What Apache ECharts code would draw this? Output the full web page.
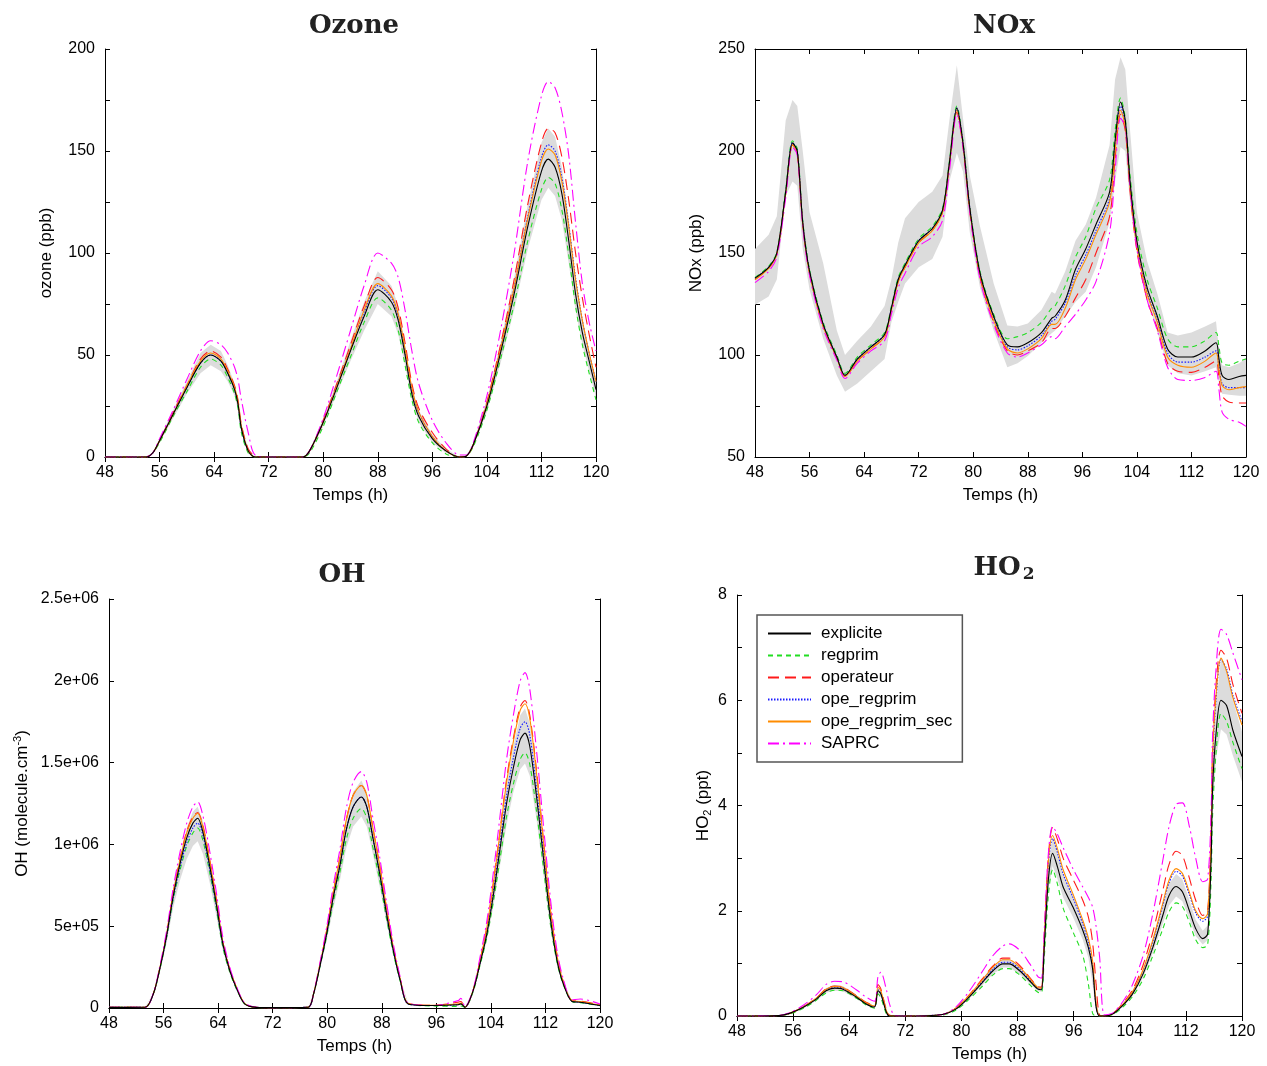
<!DOCTYPE html>
<html>
<head>
<meta charset="utf-8">
<script src="https://cdn.jsdelivr.net/npm/echarts@6/dist/echarts.min.js"></script>
<style>html,body{margin:0;padding:0;background:#fff}#c{width:1267px;height:1066px}</style>
</head>
<body>
<div id="c"></div>
<script>
// ---------- names ----------
const SERIES_NAMES = ['explicite', 'regprim', 'operateur', 'ope_regprim', 'ope_regprim_sec', 'SAPRC'];
const X_TICKS = [48, 56, 64, 72, 80, 88, 96, 104, 112, 120];

// ---------- Ozone (ppb) ----------
const O3_T = [48,54,55,56,58,60,62,63.5,65,66,67,67.5,68,69,70,72,77,78,80,82,84,86,88,90,91,92,93,94,96,98,100,101,102,104,106,108,110,112,113,114,115,116,117,118,119,120];
const O3_explicite = [0,0,2,8,21,34,46,50,47,41,33,26,14,3,0,0,0,3,17,34,52,69,82,76,67,50,31,20,9,3,0,0.5,6,25,51,80,113,140,146,142,129,106,80,61,47,33];
const O3_regprim = [0,0,2,7,20,32,44,48,45,39,31,24,12,2,0,0,0,2,15,32,49,66,78,72,62,45,28,17,7,1.5,0,0.5,5,23,48,75,106,131,137,134,121,99,74,55,41,28];
const O3_operateur = [0,0,2,8,22,35,48,52,49,43,35,28,16,4,0.5,0,0,3,18,36,55,74,88,82,73,56,36,24,12,4,0,0.5,6,27,55,87,124,154,161,159,147,126,100,78,60,44];
const O3_ope_regprim = [0,0,2,8,21,34,46,50,47,41,33,26,14,3,0,0,0,3,17,35,53,71,84,78,69,52,33,22,10,3,0,0.5,6,26,53,83,118,147,153,150,137,114,88,67,51,37];
const O3_ope_regprim_sec = [0,0,2,8,21,35,47,51,48,42,34,27,15,3,0,0,0,3,17,35,53,72,85,79,70,53,34,22,10,3,0,0.5,6,26,53,83,117,145,151,148,135,113,87,67,51,37];
const O3_SAPRC = [0,0,2,9,23,38,52,57,55,51,44,38,28,12,1,0,0,3,19,40,62,84,100,95,88,72,52,36,18,7,1,1,7,30,62,100,145,177,184,181,169,148,115,85,66,52];
const O3_band_low = [0,0,2,7,19,31,41,45,42,37,30,23,12,2,0,0,0,2,15,31,47,62,75,69,60,45,28,17,7,2,0,0.5,5,22,46,72,102,126,132,128,116,95,72,55,42,29];
const O3_band_high = [0,0,2,9,23,37,51,55,52,45,36,29,16,4,0,0,0,3,19,37,57,76,91,84,74,55,34,23,11,4,0,0.5,7,28,56,88,124,154,161,157,142,117,88,67,52,37];
const O3_Y_LABELS = [0, 50, 100, 150, 200];

// ---------- NOx (ppb) ----------
const NOX_T = [48,50,51.2,52.5,53.5,54.2,55,56,58,60,61.2,63,65,67,68,69,70,72,74,75.5,76.5,77.6,78.5,79.5,81,83,85,86.5,88,90,91.5,92,93.5,95,96.5,98,100,100.8,101.6,102.3,103,104,105.5,107,108.5,110,112,114,115.6,116,116.5,117.5,119,120];
const NOX_explicite = [137.7,143,150,180,204,200,165,141,115,99,90,98,104,110,123,137,144,156,162,171,194,221,204,172,140,119,105,104,106,111,118,119,127,142,152,164,180,205,224,215,185,156,133,119,103,99,99,102,106,99,90,88,89.5,90];
const NOX_regprim = [138,143.5,150.5,181,205,201,166,142,116,100,91,99,105,111,124,138,145,157,163,172,195,222,205,173,141,120,108,109,111,116,123,124,134,148,158,172,186,210,226,216,188,160,137,123,108,104,104,107,111,105,96,95,97,98];
const NOX_operateur = [137,142.5,149.5,179,203,199,164,140,114,98.5,89.5,97,103,109,122,136,143,155,161,170,193,219,202,170,138,116,102,100,102,106,113,113,119,128,137,150,168,196,218,210,180,151,127,113,96,92,91.5,94,97,90,80,77,76.5,76.5];
const NOX_ope_regprim = [137.5,143,150,180,204,200,165,141,115,99,90,98,104,110,123,137,144,156,162,171,194,221,204,172,140,118,104,102.5,104.5,109.5,116.5,117.5,125.5,139,149,161,177,203,222,213,183,154,131,117,101,96.5,96.5,99,102,95,86,84,84,84];
const NOX_ope_regprim_sec = [137,142.5,149.5,179,203,199,164,140,114,98.5,89.5,97,103,109,122,136,143,155,161,170,193,220,203,171,139,117,103,101,103,108,115,115,123,137,147,159,175,200,220,212,182,153,130,116,99,95,94,97,101,94,85,83,84,84.5];
const NOX_SAPRC = [135.5,141,148,177,202,198,163,139,113,97.5,88.5,96,102,107,120,133,140,153,158,166,190,218,202,170,137,115,101,99,101,105,109,108,114,120,127,136,160,190,216,212,182,152,127,112,94,88,87.5,89,92,84,72,68.5,67,65];
const NOX_band_low = [124.6,128.7,137,178,185,183,152,132,108,90,82,86,92,98,116,126,135,143,147,158,185,199,190,160,133,112,94,96,99.5,106,110.7,112,119,126,131,143,165,185,202,200,175,150,128,111,95,91,90,92,94,87,81,80.5,80,80];
const NOX_band_high = [152,159,168,215,225,222,200,170,145,112,100,107,114,124,137,155,167,175,180,188,215,242,216,188,163,135,114.5,114,115.5,122,131,130,141,156,164,177,203,235,246,240,210,170,146,130,111,109.5,111,114,116.5,104,95,94,96,98.5];
const NOX_Y_LABELS = [50, 100, 150, 200, 250];

// ---------- OH (molecule.cm-3) ----------
const OH_T = [48,53.3,54.5,55.4,56.4,57.4,58.4,59.4,60.3,61,61.8,62.8,63.8,64.7,65.7,66.7,67.9,69.6,72,77.2,78,78.9,79.9,80.9,81.9,82.8,83.8,85,85.8,86.7,87.7,88.7,89.7,90.7,91.9,95.6,99.2,99.6,100.2,101.4,102.4,103.4,104.4,105.3,106.3,107.3,108.3,109,109.7,110.7,111.7,112.7,113.7,114.6,115.9,117.1,120];
const OH_explicite = [0.04e5,0.05e5,0.86e5,2.3e5,4.3e5,6.8e5,8.8e5,10.4e5,11.3e5,11.6e5,10.7e5,8.6e5,6.2e5,3.9e5,2.3e5,1.2e5,0.25e5,0.04e5,0.02e5,0.05e5,0.86e5,2.5e5,4.5e5,6.8e5,8.8e5,10.9e5,12.3e5,12.9e5,12.3e5,10.4e5,8.2e5,5.75e5,3.5e5,1.7e5,0.25e5,0.15e5,0.2e5,0.25e5,0.05e5,1.06e5,2.7e5,4.5e5,7.0e5,9.6e5,12.5e5,14.7e5,16.4e5,16.8e5,16.0e5,12.9e5,9.2e5,5.55e5,2.9e5,1.5e5,0.4e5,0.35e5,0.15e5];
const OH_regprim = [0.04e5,0.05e5,0.85e5,2.25e5,4.2e5,6.6e5,8.4e5,9.9e5,10.7e5,11.0e5,10.2e5,8.2e5,5.9e5,3.7e5,2.2e5,1.15e5,0.25e5,0.04e5,0.02e5,0.05e5,0.85e5,2.45e5,4.35e5,6.5e5,8.4e5,10.3e5,11.6e5,12.2e5,11.6e5,9.8e5,7.8e5,5.45e5,3.35e5,1.65e5,0.25e5,0.12e5,0.1e5,0.12e5,0.04e5,1.0e5,2.6e5,4.3e5,6.6e5,9.0e5,11.7e5,13.7e5,15.2e5,15.6e5,14.9e5,12.0e5,8.6e5,5.2e5,2.8e5,1.45e5,0.4e5,0.33e5,0.14e5];
const OH_operateur = [0.04e5,0.05e5,0.87e5,2.35e5,4.4e5,7.0e5,9.1e5,10.8e5,11.7e5,11.95e5,11.1e5,9.0e5,6.5e5,4.05e5,2.4e5,1.25e5,0.28e5,0.04e5,0.02e5,0.05e5,0.88e5,2.6e5,4.7e5,7.1e5,9.3e5,11.5e5,13.0e5,13.6e5,13.0e5,11.0e5,8.7e5,6.1e5,3.7e5,1.8e5,0.27e5,0.16e5,0.35e5,0.4e5,0.05e5,1.1e5,2.9e5,4.95e5,7.8e5,10.7e5,14.0e5,16.5e5,18.4e5,18.8e5,17.9e5,14.5e5,10.3e5,6.2e5,3.25e5,1.65e5,0.45e5,0.42e5,0.2e5];
const OH_ope_regprim = [0.04e5,0.05e5,0.86e5,2.3e5,4.25e5,6.7e5,8.6e5,10.1e5,11.0e5,11.3e5,10.5e5,8.4e5,6.1e5,3.85e5,2.3e5,1.2e5,0.25e5,0.04e5,0.02e5,0.05e5,0.86e5,2.5e5,4.5e5,6.8e5,8.8e5,10.9e5,12.3e5,12.9e5,12.3e5,10.4e5,8.2e5,5.75e5,3.5e5,1.7e5,0.25e5,0.15e5,0.2e5,0.25e5,0.05e5,1.07e5,2.75e5,4.65e5,7.3e5,10.0e5,13.0e5,15.3e5,17.1e5,17.5e5,16.7e5,13.4e5,9.6e5,5.8e5,3.0e5,1.55e5,0.42e5,0.36e5,0.15e5];
const OH_ope_regprim_sec = [0.04e5,0.05e5,0.87e5,2.35e5,4.4e5,7.0e5,9.0e5,10.7e5,11.6e5,11.9e5,11.0e5,8.9e5,6.4e5,4.0e5,2.35e5,1.25e5,0.27e5,0.04e5,0.02e5,0.05e5,0.88e5,2.6e5,4.7e5,7.1e5,9.3e5,11.5e5,13.0e5,13.6e5,13.0e5,11.0e5,8.7e5,6.1e5,3.7e5,1.8e5,0.27e5,0.16e5,0.25e5,0.3e5,0.05e5,1.1e5,2.85e5,4.9e5,7.7e5,10.6e5,13.8e5,16.3e5,18.2e5,18.6e5,17.7e5,14.3e5,10.2e5,6.1e5,3.2e5,1.6e5,0.45e5,0.4e5,0.18e5];
const OH_SAPRC = [0.04e5,0.05e5,0.9e5,2.45e5,4.6e5,7.3e5,9.5e5,11.3e5,12.3e5,12.6e5,11.7e5,9.5e5,6.9e5,4.3e5,2.5e5,1.3e5,0.3e5,0.05e5,0.02e5,0.05e5,0.9e5,2.7e5,4.9e5,7.5e5,9.8e5,12.2e5,13.8e5,14.45e5,13.8e5,11.6e5,9.2e5,6.45e5,3.9e5,1.9e5,0.3e5,0.15e5,0.45e5,0.6e5,0.08e5,1.15e5,3.1e5,5.3e5,8.4e5,11.6e5,15.2e5,17.9e5,20.0e5,20.5e5,19.5e5,15.7e5,11.2e5,6.8e5,3.5e5,1.8e5,0.5e5,0.55e5,0.25e5];
const OH_band_low = [0.03e5,0.04e5,0.8e5,2.1e5,3.9e5,6.1e5,7.8e5,9.1e5,9.9e5,10.2e5,9.4e5,7.6e5,5.5e5,3.5e5,2.1e5,1.1e5,0.22e5,0.03e5,0.02e5,0.04e5,0.8e5,2.3e5,4.1e5,6.1e5,7.9e5,9.8e5,11.1e5,11.7e5,11.1e5,9.4e5,7.4e5,5.2e5,3.2e5,1.55e5,0.22e5,0.12e5,0.15e5,0.2e5,0.04e5,1.0e5,2.5e5,4.1e5,6.3e5,8.6e5,11.2e5,13.2e5,14.6e5,14.95e5,14.2e5,11.5e5,8.2e5,4.9e5,2.6e5,1.35e5,0.36e5,0.3e5,0.13e5];
const OH_band_high = [0.05e5,0.06e5,0.9e5,2.45e5,4.55e5,7.2e5,9.3e5,11.0e5,12.0e5,12.3e5,11.4e5,9.1e5,6.6e5,4.15e5,2.45e5,1.28e5,0.28e5,0.05e5,0.03e5,0.06e5,0.9e5,2.65e5,4.8e5,7.3e5,9.4e5,11.7e5,13.2e5,13.9e5,13.2e5,11.1e5,8.8e5,6.15e5,3.75e5,1.8e5,0.28e5,0.17e5,0.25e5,0.3e5,0.06e5,1.1e5,2.9e5,4.9e5,7.6e5,10.5e5,13.6e5,16.0e5,17.9e5,18.3e5,17.4e5,14.1e5,10.0e5,6.0e5,3.15e5,1.6e5,0.44e5,0.4e5,0.17e5];
const OH_Y_TICKS = [0, 5e5, 10e5, 15e5, 20e5, 25e5];
const OH_Y_LABELS = ['0', '5e+05', '1e+06', '1.5e+06', '2e+06', '2.5e+06'];

// ---------- HO2 (ppt) ----------
const HO2_T = [48,54,55.5,57.4,59.3,60.7,61.9,63.1,65,66.4,67.6,68.1,68.5,69.3,69.7,70.5,72,77.3,79.2,81.1,83,84.5,85.9,86.8,88.3,89.7,90.9,91.4,91.8,92.4,93,93.7,94.5,95.9,97.3,98.1,98.7,99.2,99.7,100.4,101.6,103,104.4,105.9,107.3,108.7,109.6,110.6,111.5,112.5,113.4,114.4,115.1,115.6,115.8,116.3,117,117.8,118.7,120];
const HO2_explicite = [0,0.01,0.05,0.16,0.32,0.48,0.53,0.51,0.36,0.23,0.17,0.48,0.42,0.07,0,0,0,0.03,0.13,0.36,0.64,0.86,0.99,0.99,0.86,0.67,0.51,0.5,1.3,2.6,3.09,2.83,2.45,2.07,1.63,1.3,0.9,0.17,0,0,0.04,0.2,0.42,0.8,1.31,1.91,2.29,2.46,2.36,2.0,1.66,1.47,1.56,3.0,4.3,5.37,6.0,5.9,5.43,4.93];
const HO2_regprim = [0,0.01,0.04,0.14,0.3,0.44,0.49,0.48,0.34,0.21,0.15,0.42,0.35,0.04,0,0,0,0.02,0.11,0.32,0.57,0.78,0.9,0.9,0.78,0.6,0.45,0.44,1.1,2.3,2.78,2.5,2.05,1.6,1.15,0.6,0.05,0,0,0,0.03,0.17,0.37,0.7,1.15,1.65,1.98,2.15,2.08,1.78,1.45,1.3,1.35,2.6,3.8,5.0,5.75,5.6,5.2,4.7];
const HO2_operateur = [0,0.01,0.05,0.17,0.34,0.52,0.57,0.55,0.39,0.26,0.2,0.6,0.52,0.12,0.02,0,0,0.03,0.15,0.4,0.71,0.95,1.1,1.1,0.96,0.74,0.56,0.55,1.5,3.05,3.58,3.35,3.0,2.6,2.2,1.88,1.4,0.6,0.02,0,0.05,0.24,0.5,0.97,1.6,2.38,2.88,3.13,3.05,2.62,2.2,1.91,2.0,3.6,5.0,6.3,6.95,6.8,6.3,5.75];
const HO2_ope_regprim = [0,0.01,0.05,0.17,0.33,0.5,0.55,0.53,0.38,0.24,0.18,0.5,0.44,0.08,0,0,0,0.03,0.14,0.37,0.66,0.89,1.02,1.02,0.89,0.69,0.52,0.51,1.4,2.9,3.37,3.1,2.7,2.25,1.75,1.4,0.95,0.2,0,0,0.04,0.21,0.45,0.86,1.42,2.1,2.53,2.75,2.66,2.3,1.96,1.8,1.9,3.4,4.8,6.0,6.77,6.6,6.1,5.6];
const HO2_ope_regprim_sec = [0,0.01,0.05,0.17,0.34,0.51,0.56,0.54,0.38,0.25,0.19,0.55,0.48,0.1,0.01,0,0,0.03,0.15,0.39,0.69,0.93,1.07,1.07,0.93,0.72,0.54,0.53,1.45,2.95,3.43,3.17,2.78,2.32,1.82,1.48,1.05,0.25,0,0,0.04,0.22,0.46,0.88,1.45,2.14,2.58,2.8,2.71,2.35,2.0,1.85,1.95,3.5,4.9,6.1,6.8,6.55,6.05,5.53];
const HO2_SAPRC = [0,0.01,0.06,0.2,0.4,0.6,0.66,0.65,0.5,0.36,0.28,0.75,0.83,0.5,0.25,0.01,0,0.03,0.17,0.47,0.85,1.15,1.33,1.37,1.25,1.0,0.75,0.72,1.6,3.1,3.6,3.45,3.2,2.8,2.45,2.25,2.07,1.7,1.12,0.02,0.06,0.27,0.6,1.15,1.95,2.95,3.6,4.02,4.05,3.6,3.0,2.55,2.6,3.9,5.3,6.6,7.35,7.25,6.9,6.39];
const HO2_band_low = [0,0,0.04,0.14,0.29,0.44,0.48,0.47,0.33,0.21,0.15,0.43,0.37,0.05,0,0,0,0.02,0.12,0.33,0.59,0.8,0.92,0.92,0.8,0.62,0.47,0.46,1.2,2.4,2.85,2.6,2.25,1.88,1.45,1.1,0.6,0.08,0,0,0.03,0.18,0.38,0.73,1.2,1.75,2.1,2.27,2.18,1.84,1.52,1.36,1.44,2.7,3.9,4.9,5.45,5.35,4.95,4.45];
const HO2_band_high = [0,0.01,0.06,0.18,0.35,0.53,0.59,0.57,0.4,0.26,0.19,0.55,0.48,0.09,0.01,0,0,0.04,0.15,0.4,0.71,0.95,1.09,1.09,0.95,0.74,0.56,0.55,1.45,2.9,3.4,3.1,2.7,2.3,1.8,1.45,1.0,0.25,0,0,0.05,0.22,0.46,0.88,1.44,2.1,2.52,2.7,2.6,2.2,1.83,1.62,1.72,3.3,4.7,5.9,6.8,6.55,6.0,5.4];
const HO2_Y_LABELS = [0, 2, 4, 6, 8];

// ---------- styling ----------
const STYLES = {
  'explicite':       { color: '#000000', type: 'solid' },
  'regprim':         { color: '#22dd22', type: [5, 4] },
  'operateur':       { color: '#ff1a1a', type: [11, 6] },
  'ope_regprim':     { color: '#1a1aff', type: [1.5, 1.5] },
  'ope_regprim_sec': { color: '#ff8c00', type: 'solid' },
  'SAPRC':           { color: '#ff00ff', type: [11, 4, 2, 4] }
};
const FONT = 'Liberation Sans';

const panels = [
  { t: O3_T, data: [O3_explicite, O3_regprim, O3_operateur, O3_ope_regprim, O3_ope_regprim_sec, O3_SAPRC], lo: O3_band_low, hi: O3_band_high,
    grid: { left: 105, top: 49, width: 491, height: 408 }, ymin: 0, ymax: 200, yint: 25,
    yfmt: v => (O3_Y_LABELS.indexOf(v) >= 0 ? String(v) : ''), yname: 'ozone (ppb)', ygap: 50 },
  { t: NOX_T, data: [NOX_explicite, NOX_regprim, NOX_operateur, NOX_ope_regprim, NOX_ope_regprim_sec, NOX_SAPRC], lo: NOX_band_low, hi: NOX_band_high,
    grid: { left: 755, top: 49, width: 491, height: 408 }, ymin: 50, ymax: 250, yint: 25,
    yfmt: v => (NOX_Y_LABELS.indexOf(v) >= 0 ? String(v) : ''), yname: 'NOx (ppb)', ygap: 50 },
  { t: OH_T, data: [OH_explicite, OH_regprim, OH_operateur, OH_ope_regprim, OH_ope_regprim_sec, OH_SAPRC], lo: OH_band_low, hi: OH_band_high,
    grid: { left: 109, top: 599, width: 491, height: 409 }, ymin: 0, ymax: 25e5, yint: 5e5,
    yfmt: v => { for (let i = 0; i < OH_Y_TICKS.length; i++) { if (Math.abs(OH_Y_TICKS[i] - v) < 1) return OH_Y_LABELS[i]; } return ''; },
    yname: 'OH (molecule.cm{sup|-3})', ygap: 76 },
  { t: HO2_T, data: [HO2_explicite, HO2_regprim, HO2_operateur, HO2_ope_regprim, HO2_ope_regprim_sec, HO2_SAPRC], lo: HO2_band_low, hi: HO2_band_high,
    grid: { left: 737, top: 595, width: 505, height: 421 }, ymin: 0, ymax: 8, yint: 1,
    yfmt: v => (HO2_Y_LABELS.indexOf(v) >= 0 ? String(v) : ''), yname: 'HO{sub|2} (ppt)', ygap: 24 }
];

const grids = [], xAxes = [], yAxes = [], series = [];
const lineAx = { show: true, lineStyle: { color: '#000', width: 1 } };
const tickIn = { show: true, inside: true, length: 5, lineStyle: { color: '#000', width: 1 } };

panels.forEach((p, g) => {
  grids.push(Object.assign({ containLabel: false }, p.grid));
  xAxes.push({ type: 'value', gridIndex: g, position: 'bottom', min: 48, max: 120, interval: 8,
    axisLine: lineAx, axisTick: tickIn, splitLine: { show: false },
    axisLabel: { color: '#000', fontSize: 16, fontFamily: FONT, margin: 8, formatter: v => (X_TICKS.indexOf(v) >= 0 ? String(v) : '') },
    name: 'Temps (h)', nameLocation: 'middle', nameGap: 30,
    nameTextStyle: { color: '#000', fontSize: 17, fontFamily: FONT } });
  xAxes.push({ type: 'value', gridIndex: g, position: 'top', min: 48, max: 120, interval: 8,
    axisLine: lineAx, axisTick: tickIn, splitLine: { show: false }, axisLabel: { show: false } });
  yAxes.push({ type: 'value', gridIndex: g, position: 'left', min: p.ymin, max: p.ymax, interval: p.yint,
    axisLine: lineAx, axisTick: tickIn, splitLine: { show: false },
    axisLabel: { color: '#000', fontSize: 16, fontFamily: FONT, margin: 10, formatter: p.yfmt },
    name: p.yname, nameLocation: 'middle', nameGap: p.ygap,
    nameTextStyle: { color: '#000', fontSize: 17, fontFamily: FONT,
      rich: { sup: { fontSize: 11, fontFamily: FONT, color: '#000', padding: [0, 0, 10, 0] },
              sub: { fontSize: 11, fontFamily: FONT, color: '#000', padding: [8, 0, 0, 0] } } } });
  yAxes.push({ type: 'value', gridIndex: g, position: 'right', min: p.ymin, max: p.ymax, interval: p.yint,
    axisLine: lineAx, axisTick: tickIn, splitLine: { show: false }, axisLabel: { show: false } });

  // uncertainty band (grey envelope)
  const T = p.t, LO = p.lo, HI = p.hi;
  series.push({
    type: 'custom', name: 'band' + g, xAxisIndex: 2 * g, yAxisIndex: 2 * g, silent: true, z: 1,
    data: T.map((x, i) => [x, LO[i], HI[i]]), encode: { x: 0, y: [1, 2] },
    renderItem: function (params, api) {
      if (params.dataIndex !== 0) return null;
      const pts = [];
      for (let i = 0; i < T.length; i++) pts.push(api.coord([T[i], HI[i]]));
      for (let i = T.length - 1; i >= 0; i--) pts.push(api.coord([T[i], LO[i]]));
      return { type: 'polygon', shape: { points: pts }, style: { fill: '#dcdcdc', stroke: null } };
    }
  });

  SERIES_NAMES.forEach((name, k) => {
    const st = STYLES[name];
    series.push({
      type: 'line', name: name, xAxisIndex: 2 * g, yAxisIndex: 2 * g,
      data: T.map((x, i) => [x, p.data[k][i]]),
      symbol: 'none', showSymbol: false, smooth: 0.3, silent: true, animation: false,
      z: name === 'explicite' ? 3 : 2,
      lineStyle: { color: st.color, width: 1.1, type: st.type },
      itemStyle: { color: st.color }
    });
  });
});

const titleFont = { fontFamily: 'DejaVu Serif', fontWeight: 'bold', fontSize: 26, color: '#222' };
const option = {
  animation: false,
  backgroundColor: '#fff',
  textStyle: { fontFamily: FONT },
  title: [
    { text: 'Ozone', left: 354, top: 13, textAlign: 'center', padding: 0, textStyle: titleFont },
    { text: 'NOx', left: 1004, top: 13, textAlign: 'center', padding: 0, textStyle: titleFont },
    { text: 'OH', left: 342, top: 562, textAlign: 'center', padding: 0, textStyle: titleFont },
    { text: '{a|HO}{b|2}', left: 1004, top: 554, textAlign: 'center', padding: 0,
      textStyle: Object.assign({}, titleFont, { rich: {
        a: { fontFamily: 'DejaVu Serif', fontWeight: 'bold', fontSize: 26, color: '#222' },
        b: { fontFamily: 'DejaVu Serif', fontSize: 17, color: '#222', padding: [12, 0, 0, 2] } } }) }
  ],
  legend: {
    data: SERIES_NAMES, orient: 'vertical', left: 757, top: 615,
    padding: [10, 10, 10, 10], itemGap: 5, itemWidth: 43, itemHeight: 14,
    borderColor: '#555', borderWidth: 1.5, backgroundColor: '#fff', selectedMode: false,
    itemStyle: { opacity: 0 },
    textStyle: { fontSize: 17, color: '#000', fontFamily: FONT, lineHeight: 14, padding: [0, 0, 0, 5] }
  },
  grid: grids, xAxis: xAxes, yAxis: yAxes, series: series
};

const chart = echarts.init(document.getElementById('c'), null, { renderer: 'canvas' });
chart.setOption(option);
</script>
</body>
</html>
